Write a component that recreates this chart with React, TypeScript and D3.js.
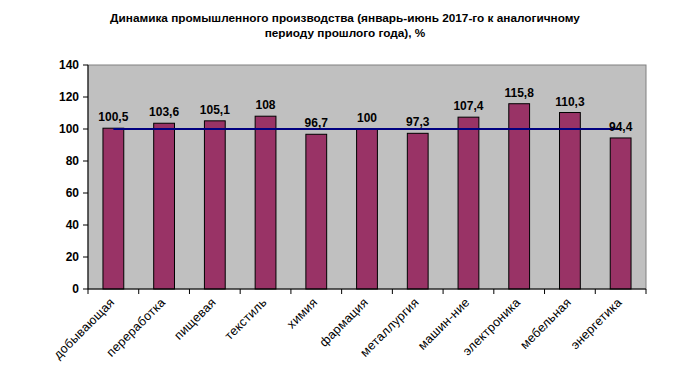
import React from "react";
import * as d3 from "d3";

const categories = ["добывающая", "переработка", "пищевая", "текстиль", "химия", "фармация", "металлургия", "машин-ние", "электроника", "мебельная", "энергетика"];
const values = [100.5, 103.6, 105.1, 108, 96.7, 100, 97.3, 107.4, 115.8, 110.3, 94.4];
const labels = ["100,5", "103,6", "105,1", "108", "96,7", "100", "97,3", "107,4", "115,8", "110,3", "94,4"];
const baseline = 100;
const yTicks = [0, 20, 40, 60, 80, 100, 120, 140];
const titleLines = ["Динамика промышленного производства (январь-июнь 2017-го к аналогичному", "периоду прошлого года), %"];

export default function App() {
  const W = 688, H = 380;
  const left = 88, right = 646, top = 65, bottom = 289;
  const x = d3.scaleBand<string>().domain(categories).range([left, right]).paddingInner(0.59).paddingOuter(0.295);
  const y = d3.scaleLinear().domain([0, 140]).range([bottom, top]);
  const center = (c: string) => (x(c) as number) + x.bandwidth() / 2;
  const line = d3.line<string>().x((c) => center(c)).y(() => y(baseline));
  const font = "Arial, 'Liberation Sans', sans-serif";
  const tickXs = d3.range(categories.length + 1).map((i) => left + i * (right - left) / categories.length);
  return (
    <svg width={W} height={H} style={{ position: "absolute", left: 0, top: 0 }} fontFamily={font}>
      <rect x={0} y={0} width={W} height={H} fill="#fff" />
      {titleLines.map((t, i) => (
        <text key={i} x={345} y={22 + i * 15} textAnchor="middle" fontSize={11.8} fontWeight="bold" fill="#000">{t}</text>
      ))}
      <rect x={left} y={top} width={right - left} height={bottom - top} fill="#c0c0c0" stroke="#808080" strokeWidth={1} />
      {categories.map((c, i) => (
        <rect key={c} x={x(c)} y={y(values[i])} width={x.bandwidth()} height={bottom - y(values[i])} fill="#993366" stroke="#000" strokeWidth={1} />
      ))}
      <path d={line(categories) || ""} stroke="#000080" strokeWidth={2} fill="none" />
      <line x1={left} x2={left} y1={top} y2={bottom} stroke="#000" />
      <line x1={left} x2={right} y1={bottom} y2={bottom} stroke="#000" />
      {yTicks.map((t) => (
        <g key={t}>
          <line x1={left - 5} x2={left} y1={y(t)} y2={y(t)} stroke="#000" />
          <text x={79} y={y(t) + 4} textAnchor="end" fontSize={12} fontWeight="bold" fill="#000">{t}</text>
        </g>
      ))}
      {tickXs.map((tx, i) => (
        <line key={i} x1={tx} x2={tx} y1={bottom} y2={bottom + 5} stroke="#000" />
      ))}
      {categories.map((c, i) => (
        <text key={c} x={center(c)} y={y(values[i]) - 7} textAnchor="middle" fontSize={12} fontWeight="bold" fill="#000">{labels[i]}</text>
      ))}
      {categories.map((c) => (
        <text key={c} transform={`translate(${center(c) + 2},${bottom + 14}) rotate(-45)`} textAnchor="end" fontSize={12.5} letterSpacing={0.3} fill="#000">{c}</text>
      ))}
    </svg>
  );
}
